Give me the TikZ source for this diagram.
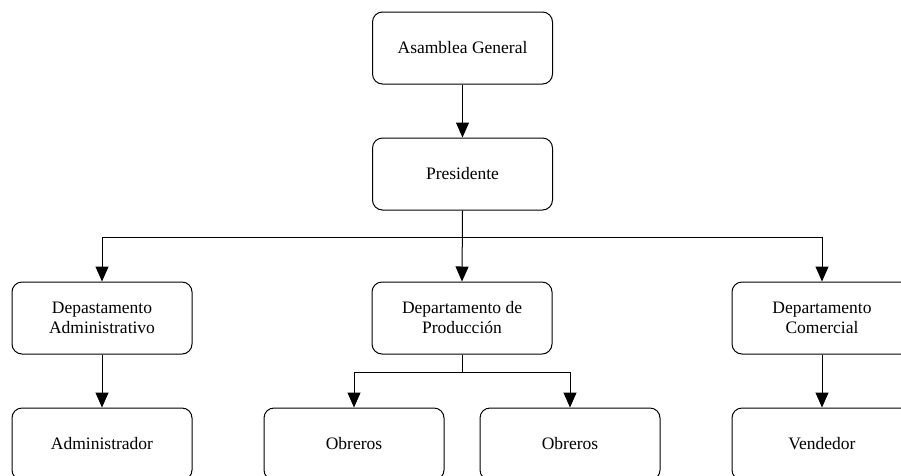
\documentclass[tikz,border=0pt]{standalone}
\usepackage{fontspec}
\setmainfont{Liberation Serif}
\usetikzlibrary{arrows.meta}
\begin{document}
\begin{tikzpicture}[x=1pt,y=-1pt,
  box/.style={draw,line width=1pt,rounded corners=10pt,minimum width=180pt,minimum height=72pt,
    inner sep=0pt,align=center,font=\fontsize{17.5}{20}\selectfont},
  conn/.style={line width=1pt,-{Triangle[width=13pt,length=15pt]}},
  wire/.style={line width=1pt}]
\useasboundingbox (0,0) rectangle (901,475);
\fill[white] (0,0) rectangle (901,475);
\clip (0,0) rectangle (901,475);
\node[box] (asm) at (462.5,48) {Asamblea General};
\node[box] (pres) at (462.5,174) {Presidente};
\node[box] (dadm) at (102,318) {Depastamento\\Administrativo};
\node[box] (dprod) at (462,318) {Departamento de\\Producción};
\node[box] (dcom) at (822,318) {Departamento\\Comercial};
\node[box] (adm) at (102,444) {Administrador};
\node[box] (ob1) at (354,444) {Obreros};
\node[box] (ob2) at (570,444) {Obreros};
\node[box] (vend) at (822,444) {Vendedor};
\coordinate (bus) at (462,237);
\coordinate (pbus) at (462,372);
\draw[conn] (asm.south) -- (pres.south |- asm.south) -- (pres.north);
\draw[conn] (pres.south) -- (dprod.north);
\draw[conn] (bus) -| (dadm.north);
\draw[conn] (bus) -| (dcom.north);
\draw[wire] (dprod.south) -- (pbus);
\draw[conn] (pbus) -| (ob1.north);
\draw[conn] (pbus) -| (ob2.north);
\draw[conn] (dadm.south) -- (adm.north);
\draw[conn] (dcom.south) -- (vend.north);
\end{tikzpicture}
\end{document}
